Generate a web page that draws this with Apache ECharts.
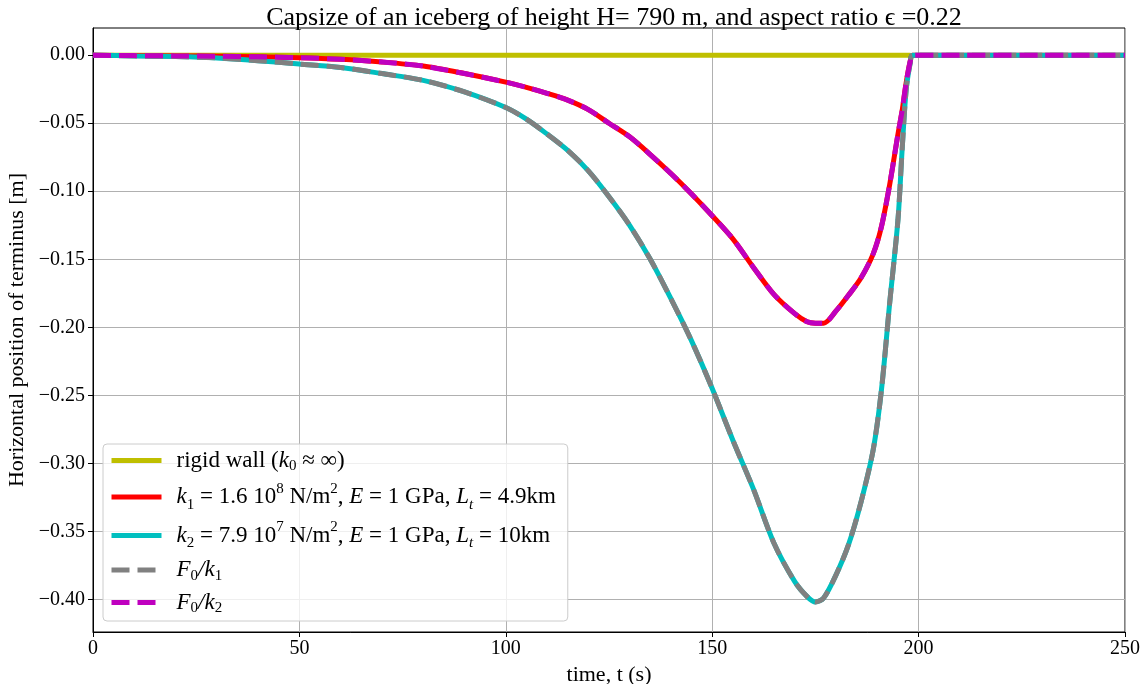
<!DOCTYPE html>
<html>
<head>
<meta charset="utf-8">
<script src="https://cdn.jsdelivr.net/npm/echarts@6/dist/echarts.min.js"></script>
<style>
html,body{margin:0;padding:0;background:#fff;}
#chart{width:1148px;height:684px;}
</style>
</head>
<body>
<div id="chart"></div>
<script>
// time (s)
const times = [0,10,20,30,40,50,60,70,80,90,100,105,110,115,120,125,130,135,140,145,150,155,160,165,170,173,175,177,180,183,186,189,191,193,195,196,197,198,198.5,210,230,250];
// k1 response (red) / F0/k2 overlay
const k1Values = [0,-0.0003,-0.0005,-0.0008,-0.0012,-0.0018,-0.003,-0.005,-0.008,-0.0135,-0.0198,-0.0236,-0.028,-0.033,-0.040,-0.050,-0.060,-0.073,-0.087,-0.102,-0.118,-0.135,-0.156,-0.176,-0.190,-0.196,-0.197,-0.197,-0.188,-0.1765,-0.164,-0.146,-0.126,-0.095,-0.058,-0.041,-0.020,-0.004,0,0,0,0];
// k2 response (cyan) / F0/k1 overlay
const k2Values = [0,-0.0005,-0.001,-0.002,-0.004,-0.0065,-0.009,-0.0135,-0.0185,-0.027,-0.0385,-0.047,-0.058,-0.070,-0.085,-0.104,-0.125,-0.150,-0.179,-0.210,-0.245,-0.283,-0.319,-0.359,-0.387,-0.398,-0.402,-0.399,-0.382,-0.360,-0.329,-0.290,-0.246,-0.182,-0.121,-0.070,-0.025,-0.005,0,0,0,0];
// rigid wall
const rigidTimes = [0,198];
const rigidValues = [0,0];
// axis ticks
const xTicks = [0,50,100,150,200,250];
const yTicks = [0,-0.05,-0.10,-0.15,-0.20,-0.25,-0.30,-0.35,-0.40];

const pairs = (t, v) => t.map((x, i) => [x, v[i]]);
const FONT = 'Liberation Serif';

const chart = echarts.init(document.getElementById('chart'), null, {renderer: 'canvas'});

const FS = 23, SS = 15;
const legendRich = {
  n: {fontFamily: FONT, fontSize: FS, lineHeight: 27, color: '#000', verticalAlign: 'middle'},
  i: {fontFamily: FONT, fontSize: FS, lineHeight: 27, fontStyle: 'italic', color: '#000', verticalAlign: 'middle'},
  s: {fontFamily: FONT, fontSize: SS, lineHeight: 23, color: '#000', verticalAlign: 'bottom'},
  si: {fontFamily: FONT, fontSize: SS, lineHeight: 23, fontStyle: 'italic', color: '#000', verticalAlign: 'bottom'},
  p: {fontFamily: FONT, fontSize: SS, lineHeight: 31, color: '#000', verticalAlign: 'top'}
};
const legendText = {
  'rigid': '{n|rigid wall (}{i|k}{s|0}{n| ≈ ∞)}',
  'k1': '{i|k}{s|1}{n| = 1.6 10}{p|8}{n| N/m}{p|2}{n|, }{i|E}{n| = 1 GPa, }{i|L}{si|t}{n| = 4.9km}',
  'k2': '{i|k}{s|2}{n| = 7.9 10}{p|7}{n| N/m}{p|2}{n|, }{i|E}{n| = 1 GPa, }{i|L}{si|t}{n| = 10km}',
  'F0k1': '{i|F}{s|0}{i|/k}{s|1}',
  'F0k2': '{i|F}{s|0}{i|/k}{s|2}'
};

const option = {
  backgroundColor: '#ffffff',
  animation: false,
  title: {
    text: 'Capsize of an iceberg of height H= 790 m, and aspect ratio ϵ =0.22',
    left: 609, top: 0, textAlign: 'center',
    textStyle: {fontFamily: FONT, fontSize: 26, fontWeight: 'normal', color: '#000'}
  },
  grid: {left: 93, right: 23, top: 28, bottom: 52, show: true, borderColor: '#000', borderWidth: 1,
    backgroundColor: 'transparent', containLabel: false, outerBoundsMode: 'none'},
  legend: {
    orient: 'vertical', left: 103, top: 444,
    itemWidth: 50, itemHeight: 12, itemGap: 7.5,
    padding: [5, 12, 5, 6],
    backgroundColor: 'rgba(255,255,255,0.8)',
    borderColor: '#cccccc', borderWidth: 1, borderRadius: 4,
    data: ['rigid','k1','k2','F0k1','F0k2'],
    formatter: name => legendText[name],
    itemStyle: {opacity: 0},
    lineStyle: {width: 5},
    textStyle: {fontFamily: FONT, fontSize: FS, color: '#000', padding: [0, 0, 0, 10], rich: legendRich}
  },
  xAxis: {
    type: 'value', min: 0, max: 250, interval: 50,
    name: 'time, t (s)', nameLocation: 'middle', nameGap: 14,
    nameTextStyle: {fontFamily: FONT, fontSize: 22, color: '#000'},
    axisLine: {show: true, onZero: false, lineStyle: {color: '#000'}},
    axisTick: {show: true, length: 5, lineStyle: {color: '#000'}},
    axisLabel: {fontFamily: FONT, fontSize: 20, color: '#000', margin: 7},
    splitLine: {show: true, lineStyle: {color: '#b0b0b0', width: 1}}
  },
  yAxis: {
    type: 'value', min: -0.424, max: 0.02,
    name: 'Horizontal position of terminus [m]', nameLocation: 'middle', nameGap: 61,
    nameTextStyle: {fontFamily: FONT, fontSize: 22, color: '#000'},
    axisLine: {show: true, onZero: false, lineStyle: {color: '#000'}},
    axisTick: {show: true, length: 5, lineStyle: {color: '#000'}, customValues: yTicks},
    axisLabel: {fontFamily: FONT, fontSize: 20, color: '#000', margin: 8, customValues: yTicks,
      formatter: v => (v < 0 ? '−' : '') + Math.abs(v).toFixed(2)},
    splitLine: {show: true, lineStyle: {color: '#b0b0b0', width: 1}}
  },
  series: [
    {name: 'rigid', type: 'line', data: pairs(rigidTimes, rigidValues), showSymbol: false, symbol: 'none',
      lineStyle: {color: '#bfbf00', width: 5}, itemStyle: {color: '#bfbf00'}, z: 2},
    {name: 'k1', type: 'line', data: pairs(times, k1Values), showSymbol: false, symbol: 'none', smooth: 0.3,
      lineStyle: {color: '#ff0000', width: 5}, itemStyle: {color: '#ff0000'}, z: 3},
    {name: 'k2', type: 'line', data: pairs(times, k2Values), showSymbol: false, symbol: 'none', smooth: 0.3,
      lineStyle: {color: '#00bfbf', width: 5}, itemStyle: {color: '#00bfbf'}, z: 4},
    {name: 'F0k1', type: 'line', data: pairs(times, k2Values), showSymbol: false, symbol: 'none', smooth: 0.3,
      lineStyle: {color: '#808080', width: 5, type: [18, 8]}, itemStyle: {color: '#808080'}, z: 5},
    {name: 'F0k2', type: 'line', data: pairs(times, k1Values), showSymbol: false, symbol: 'none', smooth: 0.3,
      lineStyle: {color: '#bf00bf', width: 5, type: [18, 8]}, itemStyle: {color: '#bf00bf'}, z: 6}
  ]
};
chart.setOption(option);
</script>
</body>
</html>
